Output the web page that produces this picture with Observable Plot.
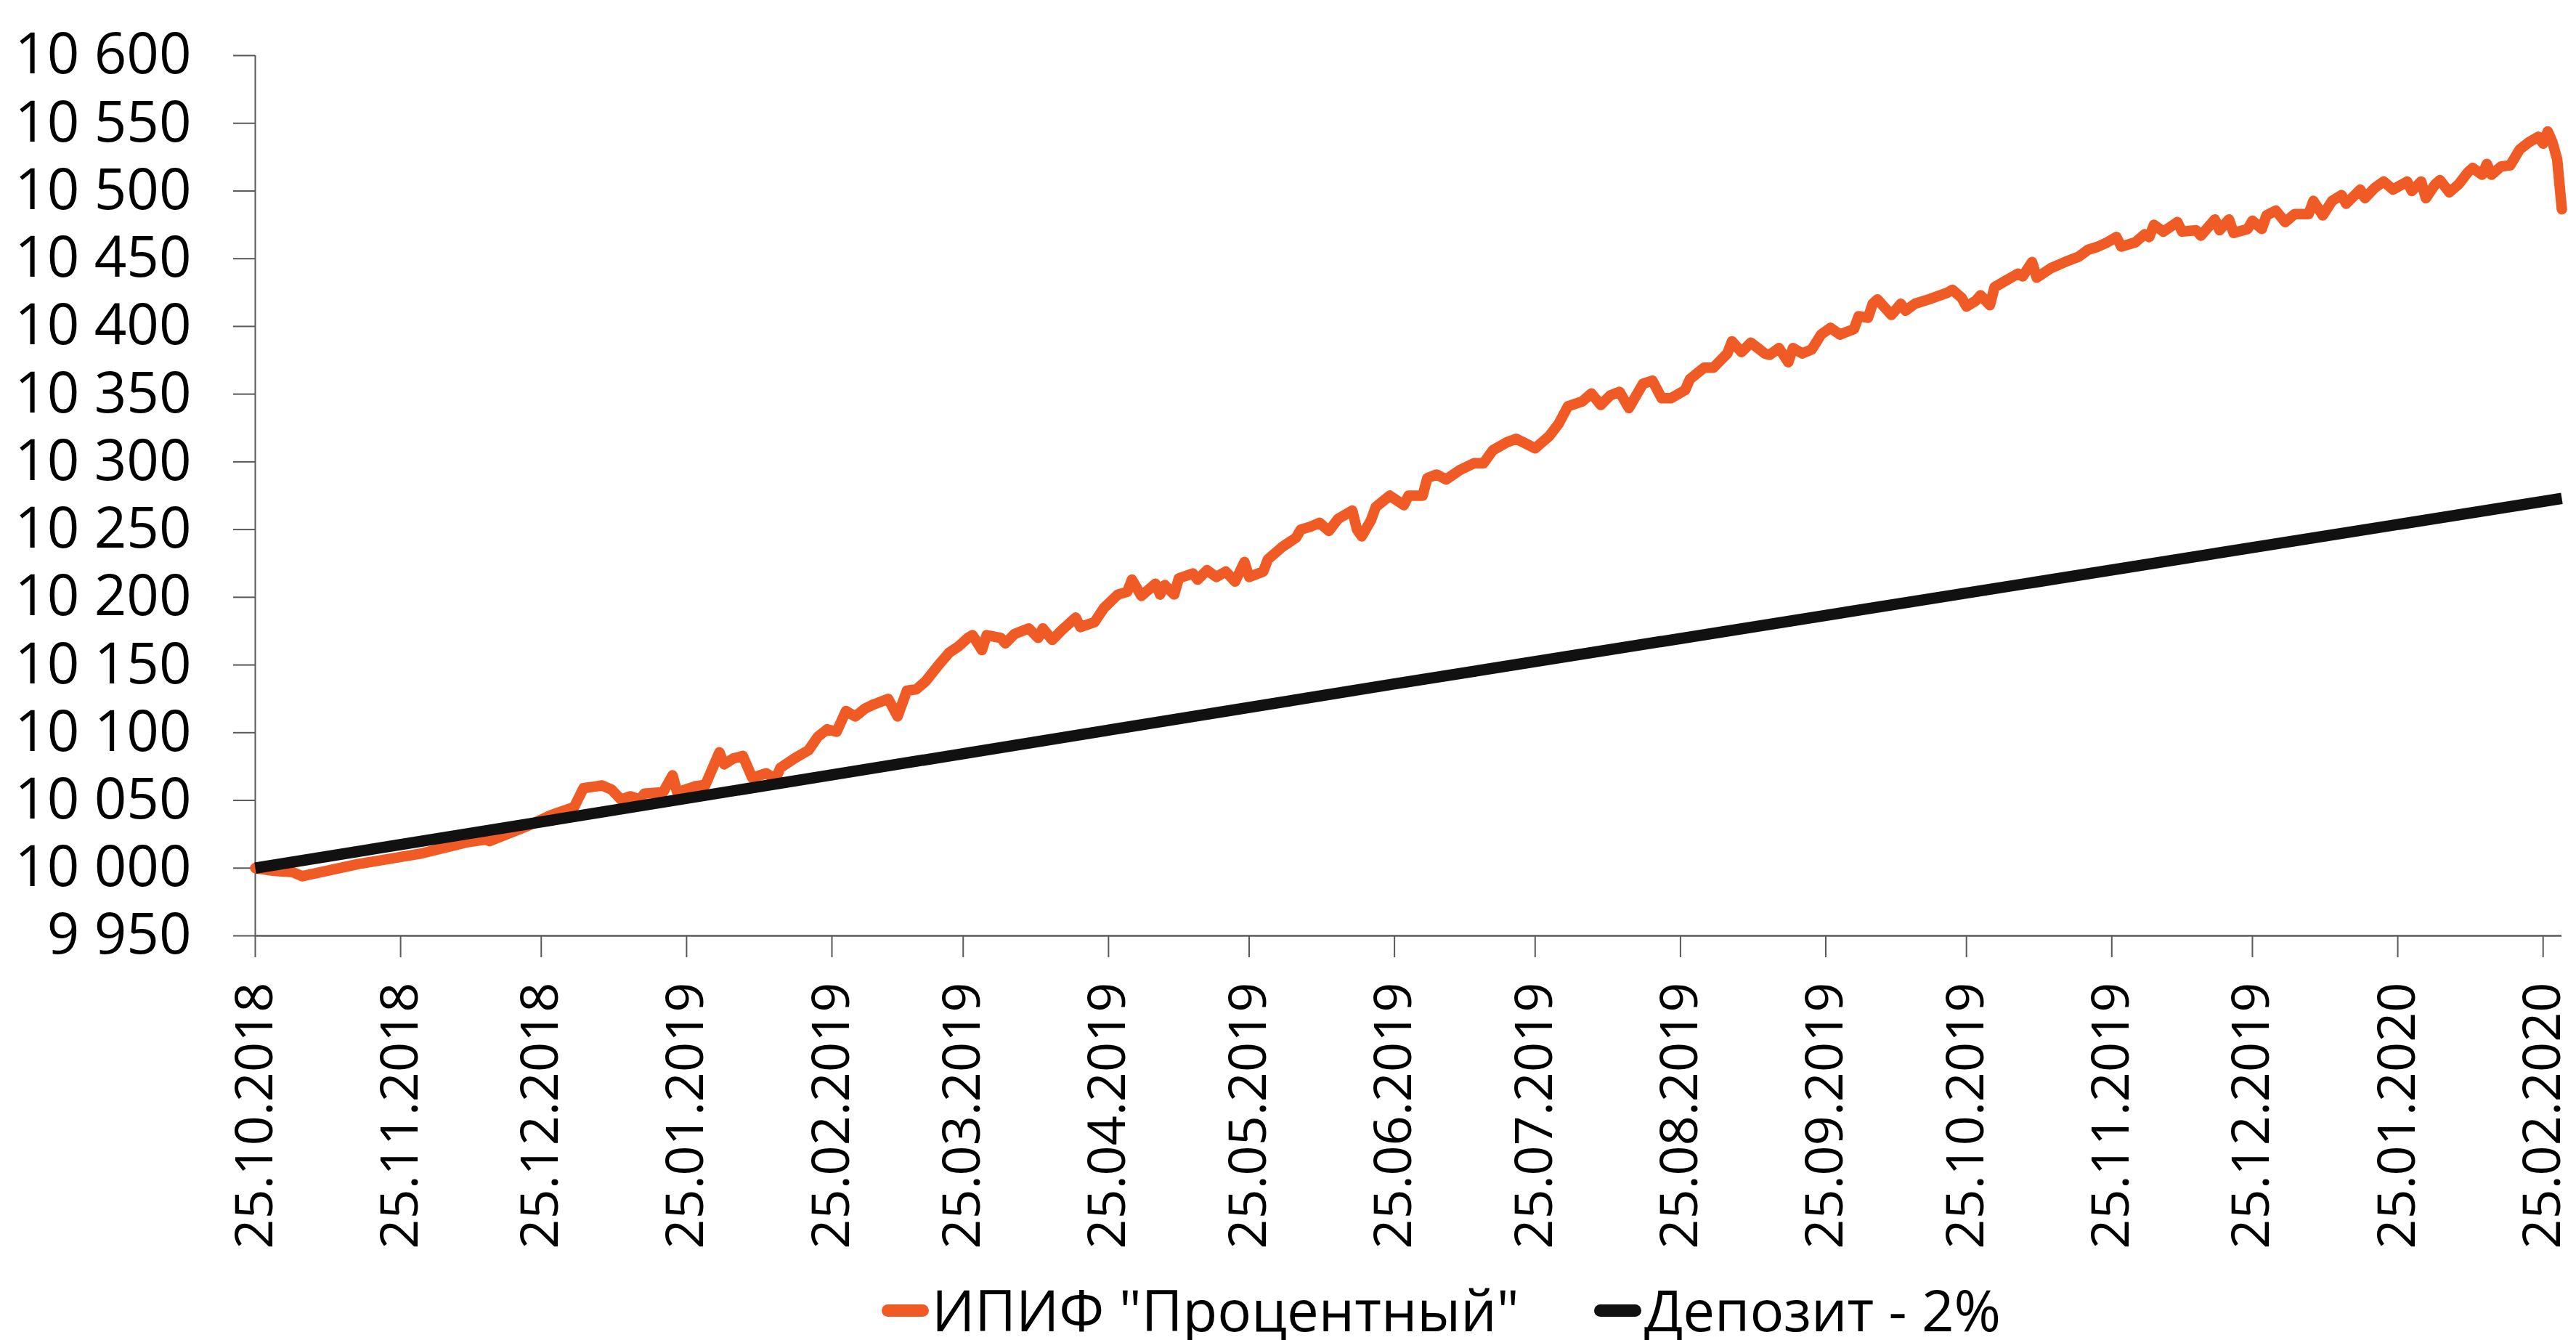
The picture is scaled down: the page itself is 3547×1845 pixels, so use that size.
<!DOCTYPE html>
<html>
<head>
<meta charset="utf-8">
<script src="https://cdn.jsdelivr.net/npm/d3@7"></script>
<script src="https://cdn.jsdelivr.net/npm/@observablehq/plot@0.6"></script>
<style>
  html, body { margin: 0; padding: 0; background: #fff; overflow: hidden; }
  #chart { position: relative; width: 3547px; height: 1845px; }
  #legend { position: absolute; top: 1768px; left: 1214px; height: 70px; display: flex; align-items: center;
            font-family: "Open Sans", sans-serif; font-size: 78px; color: #000; white-space: nowrap; }
  .sw { display: inline-block; width: 65px; height: 17px; border-radius: 9px; margin-top: 2px; margin-right: 4px; }
  .item { display: flex; align-items: center; height: 70px; line-height: 70px; }
</style>
</head>
<body>
<div id="chart"></div>
<script>
// ---- data ----
const startDate = "2018-10-25";
const endDate = "2020-02-29";
const seriesNames = ["ИПИФ \"Процентный\"", "Депозит - 2%"];
const seriesColors = ["#F05A24", "#111111"];

// fund: days since start date and values
const fundDays = [0,4,8,10,22,35,45,49,50,58,63,68,70,72,74,76,78,80,82,83,87,89,90,94,96,99,100,102,104,106,109,111,112,115,118,120,122,124,126,128,130,
132,135,137,139,141,143,146,148,150,152,153,155,156,159,160,162,165,167,168,170,172,175,176,179,181,184,186,187,189,192,193,194,196,197,200,201,203,205,207,209,211,212,215,216,219,222,223,225,227,229,231,234,235,236,238,239,242,245,246,249,250,252,254,257,260,262,264,267,269,273,276,278,280,283,285,287,289,291,293,296,298,300,302,
305,306,309,311,314,315,317,319,322,323,325,327,328,330,332,334,336,338,341,342,344,345,346,349,351,352,354,357,361,362,364,365,367,368,370,371,373,376,377,379,380,383,386,389,391,393,395,397,398,401,403,404,405,407,410,411,414,415,418,419,421,422,425,426,428,429,431,433,435,438,439,441,443,445,446,449,450,452,454,456,459,460,462,463,465,466,468,470,472,473,475,476,477,479,481,483,485,487,488,489,490,491,492];
const fundValues = [10000,9998,9997,9994,10003,10010.5,10019,10021,10020,10031,10039,10045,10059,10060,10061,10058,10050.6,10053,10050.6,10055,10056,10068.5,10056,10060.5,10061.4,10085.5,10076.6,10081,10082.8,10066.7,10070,10065.8,10074,10081,10087,10097,10102.5,10100.7,10116,10112,10117.7,
10121,10125,10112,10131,10132,10138,10151,10159,10163.7,10170,10172,10161,10172,10170,10166,10173,10177,10170,10177,10168.5,10175.6,10185,10178,10181.6,10192,10202,10204,10213,10201,10210,10202,10209,10202,10214,10217.6,10213,10220,10215,10219,10211.6,10226,10215,10219,10228,10237,10244,10250,10252,10255,10249,10258,10264,10250,10245,10257,10266.6,10275,10268,10275,10275,10288,10290.6,10287,10294,10299,10299,10308.6,10314.5,10317,10310,10319,10328,10341,10344.5,10350.5,10342,10349,10351.7,10339.7,10357.7,10360,10347,10347,
10353,10361,10369.5,10369.5,10380,10389,10381,10388,10380,10379,10384,10373.6,10384,10380,10383,10394,10399,10394,10398,10407.5,10406.4,10416.7,10420,10408.5,10416.7,10411.6,10416.7,10420,10425,10427,10421,10414.7,10419,10423,10415.7,10429,10433,10439,10437,10447.5,10436,10443,10447.5,10451.6,10456.7,10458.8,10462,10466,10459,10462,10468,10466,10475,10470,10477,10470,10471,10467,10479,10471,10479,10469,10472,10478,10472,10482,10485.5,10477,10483,10483,10492.7,10482,10492.7,10497,10490.6,10501,10494.7,10502,10507,10501,10507,10500,10507,10494.7,10505,10508,10499,10505,10514,10517,10512,10520,10512,10518,10519,10530.6,10536,10540,10535,10544,10536,10523.5,10486.5];

const depositDates = ["2018-10-25", "2019-06-25", "2020-02-29"];
const depositValues = [10000, 10136, 10273];

const tickDates = ["2018-10-25","2018-11-25","2018-12-25","2019-01-25","2019-02-25","2019-03-25","2019-04-25","2019-05-25","2019-06-25","2019-07-25","2019-08-25","2019-09-25","2019-10-25","2019-11-25","2019-12-25","2020-01-25","2020-02-25"];
const yTicks = [9950,10000,10050,10100,10150,10200,10250,10300,10350,10400,10450,10500,10550,10600];

// ---- build ----
const parse = d3.utcParse("%Y-%m-%d");
const start = parse(startDate);
const fund = fundDays.map((d, i) => ({date: d3.utcDay.offset(start, d), value: fundValues[i]}));
const deposit = depositDates.map((d, i) => ({date: parse(d), value: depositValues[i]}));
const ticks = tickDates.map(parse);
const numFmt = v => d3.format(",")(v).replace(/,/g, " ");
const axisColor = "#595959";

const plot = Plot.plot({
  width: 3547,
  height: 1750,
  marginTop: 76,
  marginBottom: 462,
  marginLeft: 351,
  marginRight: 20,
  style: {fontFamily: "'Open Sans', sans-serif", fontSize: "78px", color: "#000", background: "#fff", overflow: "visible"},
  x: {type: "utc", domain: [start, parse(endDate)]},
  y: {domain: [9950, 10600]},
  marks: [
    Plot.axisY({ticks: yTicks, label: null, tickSize: 30, tickPadding: 58, tickFormat: numFmt, fontSize: 78, stroke: axisColor, strokeWidth: 2, fill: "#000"}),
    Plot.axisX({ticks: ticks, label: null, tickSize: 30, tickPadding: 34, tickRotate: -90, tickFormat: d3.utcFormat("%d.%m.%Y"), fontSize: 72, stroke: axisColor, strokeWidth: 2, fill: "#000"}),
    Plot.ruleX([start], {stroke: axisColor, strokeWidth: 2}),
    Plot.ruleY([9950], {stroke: axisColor, strokeWidth: 2.5}),
    Plot.lineY(fund, {x: "date", y: "value", stroke: seriesColors[0], strokeWidth: 14.5, strokeLinejoin: "round", strokeLinecap: "round"}),
    Plot.lineY(deposit, {x: "date", y: "value", stroke: seriesColors[1], strokeWidth: 15.5, strokeLinecap: "butt"})
  ]
});

const chart = document.getElementById("chart");
chart.appendChild(plot);

const legend = document.createElement("div");
legend.id = "legend";
seriesNames.forEach((name, i) => {
  const item = document.createElement("div");
  item.className = "item";
  if (i > 0) item.style.marginLeft = "103px";
  const sw = document.createElement("span");
  sw.className = "sw";
  sw.style.background = seriesColors[i];
  const t = document.createElement("span");
  t.textContent = name;
  item.appendChild(sw);
  item.appendChild(t);
  legend.appendChild(item);
});
chart.appendChild(legend);
</script>
</body>
</html>
